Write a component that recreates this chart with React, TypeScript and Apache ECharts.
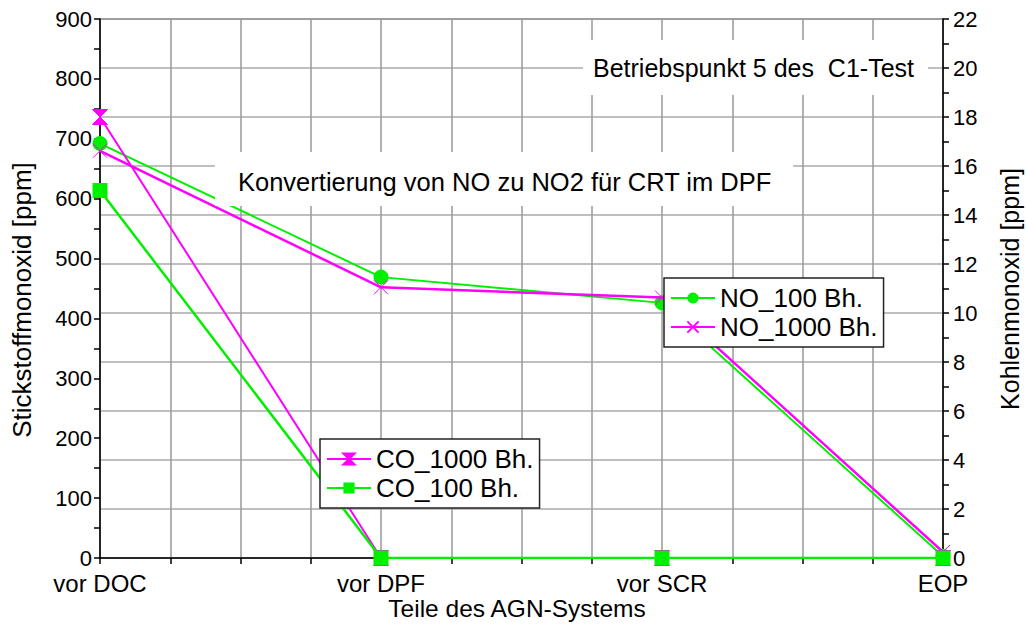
import React, { useEffect, useRef } from "react";
import * as echarts from "echarts";

const categories = ["vor DOC", "vor DPF", "vor SCR", "EOP"];
const no100 = [692, 469, 426, 3];
const no1000 = [680, 452, 435, 10];
const co1000 = [18, 0, 0, 0];
const co100 = [15, 0, 0, 0];
const leftTicks = { min: 0, max: 900, interval: 100 };
const rightTicks = { min: 0, max: 22, interval: 2 };
const noteTop = "Betriebspunkt 5 des  C1-Test";
const noteMid = "Konvertierung von NO zu NO2 für CRT im DPF";
const yLeftName = "Stickstoffmonoxid [ppm]";
const yRightName = "Kohlenmonoxid [ppm]";
const xName = "Teile des AGN-Systems";

const FONT = "'Liberation Sans', Arial, sans-serif";
const GREEN = "#00f000";
const MAGENTA = "#ff00ff";
const HOURGLASS = "path://M0,0L10,0L5,5L10,10L0,10L5,5Z";
const CROSS = "path://M0,0L10,10M10,0L0,10";

const toPts = (arr: number[]) => arr.map((v, i) => [i, v]);

export default function App() {
  const ref = useRef<HTMLDivElement>(null);
  useEffect(() => {
    if (!ref.current) return;
    const chart = echarts.init(ref.current, undefined, { renderer: "svg" });
    const axisLabel = { color: "#000", fontFamily: FONT, fontSize: 22 };
    const legendBase = {
      orient: "vertical" as const,
      backgroundColor: "#fff",
      borderColor: "#222",
      borderWidth: 1.5,
      borderRadius: 0,
      itemWidth: 44,
      itemHeight: 14,
      itemGap: 3,
      padding: [7, 6, 7, 6],
      textStyle: { color: "#000", fontFamily: FONT, fontSize: 26 },
      z: 20,
    };
    chart.setOption({
      animation: false,
      backgroundColor: "#fff",
      grid: {
        left: 100,
        right: 83,
        top: 19,
        bottom: 69,
        show: true,
        borderColor: "#555",
        borderWidth: 1.5,
        backgroundColor: "transparent",
      },
      xAxis: {
        type: "value",
        min: 0,
        max: categories.length - 1,
        interval: 1,
        axisLine: { show: true, lineStyle: { color: "#000", width: 1.5 } },
        axisTick: { show: true, length: 6, lineStyle: { color: "#000", width: 1.5 } },
        minorTick: { show: true, splitNumber: 4, length: 6, lineStyle: { color: "#000", width: 1.5 } },
        splitLine: { show: true, lineStyle: { color: "#999", width: 1.5 } },
        minorSplitLine: { show: true, lineStyle: { color: "#999", width: 1.5 } },
        axisLabel: {
          ...axisLabel,
          fontSize: 24,
          margin: 13,
          formatter: (v: number) => categories[Math.round(v)] ?? "",
        },
      },
      yAxis: [
        {
          type: "value",
          position: "left",
          ...leftTicks,
          axisLine: { show: true, lineStyle: { color: "#000", width: 1.5 } },
          axisTick: { show: true, length: 6, lineStyle: { color: "#000", width: 1.5 } },
          minorTick: { show: true, splitNumber: 2, length: 6, lineStyle: { color: "#000", width: 1.5 } },
          splitLine: { show: false },
          axisLabel: { ...axisLabel, margin: 8 },
        },
        {
          type: "value",
          position: "right",
          ...rightTicks,
          axisLine: { show: true, lineStyle: { color: "#000", width: 1.5 } },
          axisTick: { show: true, length: 6, lineStyle: { color: "#000", width: 1.5 } },
          minorTick: { show: true, splitNumber: 2, length: 6, lineStyle: { color: "#000", width: 1.5 } },
          splitLine: { show: true, lineStyle: { color: "#aaa", width: 1.5 } },
          axisLabel: { ...axisLabel, margin: 10 },
        },
      ],
      legend: [
        {
          ...legendBase,
          left: 664,
          top: 278,
          data: ["NO_100 Bh.", "NO_1000 Bh."],
        },
        {
          ...legendBase,
          left: 320,
          top: 439,
          data: ["CO_1000 Bh.", "CO_100 Bh."],
        },
      ],
      series: [
        {
          name: "NO_100 Bh.",
          type: "line",
          yAxisIndex: 0,
          data: toPts(no100),
          symbol: "circle",
          symbolSize: 15,
          lineStyle: { color: GREEN, width: 2 },
          itemStyle: { color: GREEN },
          z: 2,
        },
        {
          name: "NO_1000 Bh.",
          type: "line",
          yAxisIndex: 0,
          data: toPts(no1000),
          symbol: CROSS,
          symbolSize: 14,
          lineStyle: { color: MAGENTA, width: 2.5 },
          itemStyle: { color: "none", borderColor: MAGENTA, borderWidth: 1 },
          z: 3,
        },
        {
          name: "CO_1000 Bh.",
          type: "line",
          yAxisIndex: 1,
          data: toPts(co1000),
          symbol: HOURGLASS,
          symbolSize: 15,
          lineStyle: { color: MAGENTA, width: 2 },
          itemStyle: { color: MAGENTA, borderColor: MAGENTA, borderWidth: 1 },
          z: 4,
        },
        {
          name: "CO_100 Bh.",
          type: "line",
          yAxisIndex: 1,
          data: toPts(co100),
          symbol: "rect",
          symbolSize: 15,
          lineStyle: { color: GREEN, width: 2.5 },
          itemStyle: { color: GREEN },
          z: 5,
        },
      ],
      graphic: [
        { type: "rect", z: 50, shape: { x: 583, y: 40, width: 345, height: 55 }, style: { fill: "#fff" } },
        {
          type: "text",
          z: 51,
          x: 593,
          y: 68,
          style: { text: noteTop, fontSize: 25, fontFamily: FONT, fill: "#000", align: "left", verticalAlign: "middle" },
        },
        { type: "rect", z: 50, shape: { x: 215, y: 152, width: 578, height: 54 }, style: { fill: "#fff" } },
        {
          type: "text",
          z: 51,
          x: 238,
          y: 182,
          style: { text: noteMid, fontSize: 25.5, fontFamily: FONT, fill: "#000", align: "left", verticalAlign: "middle" },
        },
        {
          type: "text",
          z: 51,
          x: 22,
          y: 300,
          rotation: Math.PI / 2,
          style: { text: yLeftName, fontSize: 26, fontFamily: FONT, fill: "#000", align: "center", verticalAlign: "middle" },
        },
        {
          type: "text",
          z: 51,
          x: 1010,
          y: 289,
          rotation: Math.PI / 2,
          style: { text: yRightName, fontSize: 25, fontFamily: FONT, fill: "#000", align: "center", verticalAlign: "middle" },
        },
        {
          type: "text",
          z: 51,
          x: 517,
          y: 608,
          style: { text: xName, fontSize: 24.5, fontFamily: FONT, fill: "#000", align: "center", verticalAlign: "middle" },
        },
      ],
    });
    return () => chart.dispose();
  }, []);
  return (
    <div
      ref={ref}
      style={{ position: "fixed", left: 0, top: 0, width: 1026, height: 627 }}
    />
  );
}
